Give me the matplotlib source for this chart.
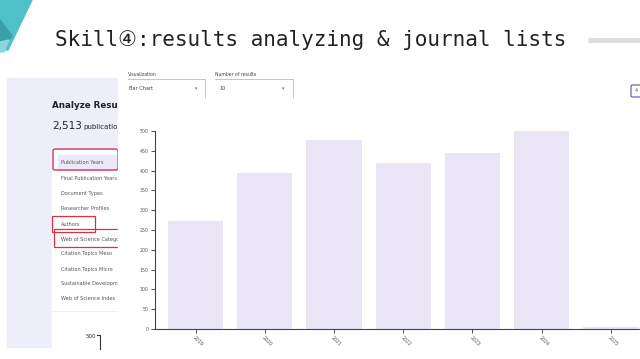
import matplotlib
matplotlib.use("Agg")
from matplotlib import pyplot as plt
from matplotlib.patches import Rectangle, Polygon, FancyBboxPatch
import numpy as np

W, H = 640, 359

# data
years = ["2019", "2020", "2021", "2022", "2023", "2024", "2025"]
counts = [272, 395, 478, 418, 445, 500, 5]
y_ticks = [0, 50, 100, 150, 200, 250, 300, 350, 400, 450, 500]

# left panel list
menu_items = ["Publication Years", "Final Publication Years", "Document Types",
              "Researcher Profiles", "Authors", "Web of Science Categories",
              "Citation Topics Meso", "Citation Topics Micro",
              "Sustainable Development Goals", "Web of Science Index"]

title = "Skill\u2463:results analyzing & journal lists"


def fx(x):
    return x / W


def fy(y):
    return 1 - y / H


def frect(x0, y0, x1, y1, **kw):
    return Rectangle((fx(x0), fy(y1)), (x1 - x0) / W, (y1 - y0) / H,
                     transform=fig.transFigure, **kw)


fig = plt.figure(figsize=(6.4, 3.59), dpi=100)
fig.patch.set_facecolor("white")

# teal corner decoration
fig.patches.append(Polygon([(fx(0), fy(0)), (fx(32), fy(0)), (fx(8), fy(50)), (fx(0), fy(50))],
                           closed=True, transform=fig.transFigure, color="#4fc0c8", zorder=1))
fig.patches.append(Polygon([(fx(0), fy(20)), (fx(12), fy(36)), (fx(5), fy(44)), (fx(0), fy(40))],
                           closed=True, transform=fig.transFigure, color="#3a9fa8", zorder=2))
fig.patches.append(Polygon([(fx(0), fy(42)), (fx(9), fy(40)), (fx(4), fy(52)), (fx(0), fy(52))],
                           closed=True, transform=fig.transFigure, color="#8ad6da", zorder=2))

# title
fig.text(fx(55), fy(40), title, fontsize=15.1, color="#222222", va="center", ha="left",
         family=["DejaVu Sans Mono", "DejaVu Sans", "Noto Sans CJK SC"])
fig.add_artist(plt.Line2D([fx(588), fx(640)], [fy(40), fy(40)], transform=fig.transFigure,
                          color="#dcdcdc", lw=3.5, solid_capstyle="butt"))

# left screenshot panel
fig.patches.append(frect(7, 78, 120, 347, color="#eeeefa", zorder=1))
fig.patches.append(frect(52, 148, 120, 359, color="white", zorder=1))
fig.add_artist(plt.Line2D([fx(52), fx(120)], [fy(311), fy(311)], transform=fig.transFigure,
                          color="#eeeeee", lw=0.6, zorder=2))
fig.text(fx(52), fy(105), "Analyze Results", fontsize=6.3, fontweight="bold", color="#222222",
         va="center", zorder=3)
fig.text(fx(52), fy(126), "2,513", fontsize=7.5, color="#222222", va="center", zorder=3)
fig.text(fx(83), fy(127), "publications", fontsize=5, color="#222222", va="center", zorder=3)

item_y = [163, 178, 194, 209, 224, 239, 254, 269, 284, 299]
fig.patches.append(frect(58, 155, 120, 170, color="#ebe8f7", zorder=2))
for label, yy in zip(menu_items, item_y):
    fig.text(fx(61), fy(yy), label, fontsize=3.6, color="#555555", va="center", zorder=3)

fig.patches.append(FancyBboxPatch((fx(53), fy(170)), (118 - 53) / W, 21 / H,
                                  boxstyle="round,pad=0,rounding_size=0.004",
                                  transform=fig.transFigure, fill=False,
                                  edgecolor="#d8416a", lw=1.1, zorder=4))
fig.patches.append(frect(52, 216, 95, 232, fill=False, edgecolor="#e03040", lw=0.9, zorder=4))
fig.patches.append(frect(54, 229, 121, 247, fill=False, edgecolor="#e03040", lw=0.9, zorder=4))

fig.text(fx(96), fy(336), "500", fontsize=4, color="#333333", va="center", ha="right", zorder=3)
fig.add_artist(plt.Line2D([fx(97), fx(100), fx(100)], [fy(335), fy(335), fy(349)],
                          transform=fig.transFigure, color="#333333", lw=0.8, zorder=3))

# chart screenshot overlay
fig.patches.append(frect(118, 68, 640, 359, color="white", zorder=5))

fig.text(fx(128), fy(75), "Visualization", fontsize=3.3, color="#444444", va="center", zorder=6)
fig.text(fx(129), fy(88), "Bar Chart", fontsize=3.6, color="#444444", va="center", zorder=6)
fig.text(fx(195), fy(89), "\u25be", fontsize=3.5, color="#777777", va="center", zorder=6)
fig.text(fx(215), fy(75), "Number of results", fontsize=3.3, color="#444444", va="center", zorder=6)
fig.text(fx(220), fy(88), "10", fontsize=3.6, color="#444444", va="center", zorder=6)
fig.text(fx(282), fy(89), "\u25be", fontsize=3.5, color="#777777", va="center", zorder=6)
for x0, x1 in [(128, 205), (215, 293)]:
    fig.add_artist(plt.Line2D([fx(x0), fx(x1), fx(x1)], [fy(79), fy(79), fy(97)],
                              transform=fig.transFigure, color="#bbbbbb", lw=0.6, zorder=6))
fig.patches.append(FancyBboxPatch((fx(631), fy(97)), 14 / W, 12 / H,
                                  boxstyle="round,pad=0,rounding_size=0.003",
                                  transform=fig.transFigure, fill=False,
                                  edgecolor="#5b4fb0", lw=0.8, zorder=6))
fig.text(fx(635), fy(91), "4", fontsize=3.5, color="#5b4fb0", va="center", zorder=6)

# the bar chart itself
ax = fig.add_axes([fx(155), fy(329), (640 - 155) / W, (329 - 131) / H])
ax.set_zorder(10)
ax.patch.set_visible(False)
x = np.arange(len(years))
ax.bar(x, counts, width=0.8, color="#e9e5f5")
ax.set_xlim(-0.585, 6.42)
ax.set_ylim(0, 500)
ax.set_yticks(y_ticks)
ax.set_yticklabels([str(v) for v in y_ticks], fontsize=3.4, color="#555555")
ax.set_xticks(x)
ax.set_xticklabels(years, fontsize=3.4, color="#555555", rotation=-45, ha="left",
                   rotation_mode="anchor")
ax.tick_params(axis="both", length=3, width=0.6, color="#333333", pad=1.5)
for side in ["top", "right"]:
    ax.spines[side].set_visible(False)
for side in ["left", "bottom"]:
    ax.spines[side].set_color("#444444")
    ax.spines[side].set_linewidth(0.8)

fig.savefig("out.png", dpi=100)
